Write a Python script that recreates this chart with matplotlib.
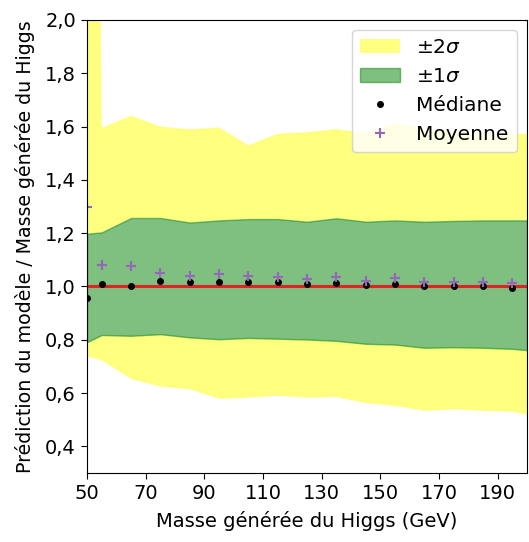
import numpy as np
import matplotlib
matplotlib.use("Agg")
import matplotlib.pyplot as plt
from matplotlib.ticker import FuncFormatter

# Masses (GeV) where the bands are sampled
band_mass = [50, 55, 65, 75, 85, 95, 105, 115, 125, 135, 145, 155, 165, 175, 185, 195, 200]
up2 = [8.0, 1.595, 1.641, 1.600, 1.590, 1.597, 1.530, 1.573, 1.579, 1.590, 1.577,
       1.613, 1.592, 1.582, 1.575, 1.573, 1.573]
up1 = [1.198, 1.203, 1.257, 1.257, 1.240, 1.248, 1.253, 1.253, 1.243, 1.256, 1.243,
       1.248, 1.243, 1.246, 1.248, 1.248, 1.248]
lo1 = [0.791, 0.818, 0.815, 0.821, 0.809, 0.802, 0.807, 0.804, 0.801, 0.796, 0.785,
       0.782, 0.770, 0.772, 0.770, 0.766, 0.761]
lo2 = [0.739, 0.724, 0.654, 0.626, 0.616, 0.580, 0.585, 0.592, 0.585, 0.587, 0.564,
       0.554, 0.535, 0.541, 0.535, 0.532, 0.520]

# Median / mean of the prediction ratio
pt_mass = [50, 55, 65, 75, 85, 95, 105, 115, 125, 135, 145, 155, 165, 175, 185, 195]
mediane = [0.958, 1.010, 1.001, 1.022, 1.018, 1.016, 1.018, 1.017, 1.008, 1.013, 1.005,
           1.008, 1.001, 1.003, 1.001, 0.996]
moyenne = [1.300, 1.082, 1.077, 1.051, 1.038, 1.045, 1.040, 1.037, 1.028, 1.037, 1.020,
           1.030, 1.016, 1.016, 1.016, 1.012]

fs = 14
fig = plt.figure(figsize=(5.29, 5.42), dpi=100)
ax = fig.add_axes([0.1645, 0.1273, 0.8317, 0.8358])

# 2 sigma band drawn in two pieces so the 1 sigma band sits on white
ax.fill_between(band_mass, up1, up2, color="yellow", alpha=0.5, lw=0, label=r"$\pm2\sigma$")
ax.fill_between(band_mass, lo2, lo1, color="yellow", alpha=0.5, lw=0)
ax.fill_between(band_mass, lo1, up1, color="green", alpha=0.5, label=r"$\pm1\sigma$")
ax.axhline(1.0, color="#dc2626", lw=2.2)
ax.plot(pt_mass, mediane, ".", color="black", ms=8, label="Médiane")
ax.plot(pt_mass, moyenne, "+", color="tab:purple", ms=7.5, mew=1.5, label="Moyenne")

ax.set_xlim(50, 200)
ax.set_ylim(0.3, 2.0)
ax.set_xticks(np.arange(50, 200, 20))
ax.set_yticks(np.arange(0.4, 2.01, 0.2))
ax.yaxis.set_major_formatter(FuncFormatter(lambda v, p: f"{v:.1f}".replace(".", ",")))
ax.tick_params(labelsize=fs, length=4.5)

ax.set_xlabel("Masse générée du Higgs (GeV)", fontsize=fs, labelpad=6)
ax.set_ylabel("Prédiction du modèle / Masse générée du Higgs", fontsize=13.7, labelpad=7)
ax.legend(loc="upper right", fontsize=14.5)

fig.savefig("out.png", dpi=100)
